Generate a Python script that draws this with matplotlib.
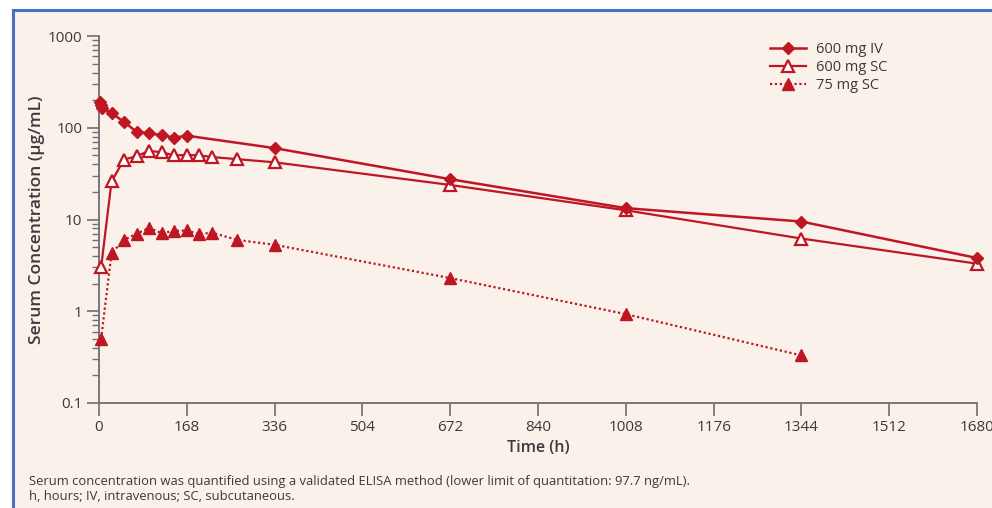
import matplotlib.pyplot as plt
from matplotlib.ticker import LogLocator, NullFormatter
from matplotlib.lines import Line2D
from matplotlib.patches import Rectangle

plt.rcParams['font.family'] = ['Open Sans', 'DejaVu Sans']

# time (h) and serum concentration (ug/mL)
iv_time = [1, 3, 6, 24, 48, 72, 96, 120, 144, 168, 336, 672, 1008, 1344, 1680]
iv_conc = [190, 178, 165, 144, 116, 90, 87, 83, 78, 82, 60, 27.5, 13.3, 9.5, 3.8]

sc600_time = [4, 24, 48, 72, 96, 120, 144, 168, 192, 216, 264, 336, 672, 1008, 1344, 1680]
sc600_conc = [3.0, 26, 45, 49, 56, 54, 50, 50.5, 50, 48, 45.5, 42, 23.8, 12.6, 6.2, 3.3]

sc75_time = [4, 24, 48, 72, 96, 120, 144, 168, 192, 216, 264, 336, 672, 1008, 1344]
sc75_conc = [0.5, 4.3, 6.0, 7.0, 8.1, 7.1, 7.5, 7.6, 6.9, 7.2, 6.0, 5.3, 2.3, 0.93, 0.33]

x_ticks = [0, 168, 336, 504, 672, 840, 1008, 1176, 1344, 1512, 1680]
y_ticks = [0.1, 1, 10, 100, 1000]
y_tick_labels = ['0.1', '1', '10', '100', '1000']

bg = '#faf1eb'
red = '#be1622'
grey = '#6d6e71'
txt = '#3a3a3c'

fig = plt.figure(figsize=(9.92, 5.08), dpi=100, facecolor=bg)
# white strip on top, blue frame on left/top
fig.add_artist(Rectangle((0, 1 - 10 / 508), 1, 10 / 508, transform=fig.transFigure,
                         facecolor='white', edgecolor='none'))
fig.add_artist(Rectangle((0, 0), 13 / 992, 1, transform=fig.transFigure,
                         facecolor='white', edgecolor='none'))
fig.add_artist(Line2D([13 / 992, 13 / 992], [0, 1 - 10 / 508], color='#4a72c4', lw=2.2,
                      transform=fig.transFigure))
fig.add_artist(Line2D([13 / 992, 1], [1 - 10 / 508, 1 - 10 / 508], color='#4a72c4', lw=2.2,
                      transform=fig.transFigure))

ax = fig.add_axes([0.0998, 0.2067, 0.8852, 0.7224])
ax.set_facecolor('none')

ax.plot(iv_time, iv_conc, color=red, lw=1.8, marker='D', ms=6.5, mfc=red, mec=red,
        label='600 mg IV', clip_on=False, zorder=4)
ax.plot(sc600_time, sc600_conc, color=red, lw=1.6, marker='^', ms=8, mfc='white', mec=red,
        mew=1.6, label='600 mg SC', clip_on=False, zorder=3)
ax.plot(sc75_time, sc75_conc, color=red, lw=1.6, ls=(0, (1, 1.2)), marker='^', ms=8.5,
        mfc=red, mec=red, label='75 mg SC', clip_on=False, zorder=3)

ax.set_yscale('log')
ax.set_ylim(0.1, 1000)
ax.set_xlim(0, 1680)
ax.set_xticks(x_ticks)
ax.set_yticks(y_ticks)
ax.set_yticklabels(y_tick_labels)
ax.yaxis.set_minor_locator(LogLocator(base=10, subs=range(2, 10)))
ax.yaxis.set_minor_formatter(NullFormatter())

for s in ['top', 'right']:
    ax.spines[s].set_visible(False)
for s in ['left', 'bottom']:
    ax.spines[s].set_color(grey)
    ax.spines[s].set_linewidth(1.3)

ax.tick_params(axis='both', which='major', color=grey, width=1.2, length=9,
               labelsize=11, labelcolor=txt, pad=3)
ax.tick_params(axis='y', which='minor', color=grey, width=1, length=5)

ax.set_xlabel('Time (h)', fontsize=11.5, fontweight='semibold', color=txt, labelpad=4)
ax.set_ylabel('Serum Concentration (µg/mL)', fontsize=12.5, fontweight='semibold', color=txt,
              labelpad=2)

leg = ax.legend(loc='upper right', bbox_to_anchor=(0.905, 1.0), frameon=False, fontsize=10.5,
                handlelength=2.5, handletextpad=0.7, labelspacing=0.2, borderaxespad=0)
for t in leg.get_texts():
    t.set_color(txt)

fig.text(29 / 992, 1 - 482 / 508,
         'Serum concentration was quantified using a validated ELISA method '
         '(lower limit of quantitation: 97.7 ng/mL).',
         fontsize=9.4, color=txt, va='center')
fig.text(29 / 992, 1 - 497 / 508, 'h, hours; IV, intravenous; SC, subcutaneous.',
         fontsize=9.4, color=txt, va='center')

fig.savefig('out.png', dpi=100, facecolor=fig.get_facecolor())
